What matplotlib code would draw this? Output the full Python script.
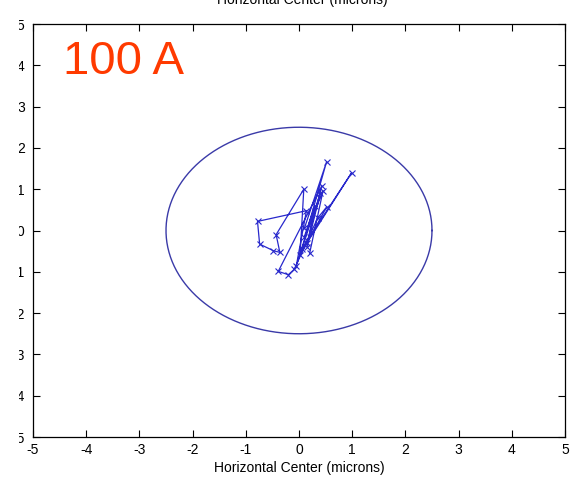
import numpy as np
import matplotlib
matplotlib.use('Agg')
import matplotlib.pyplot as plt
from matplotlib.patches import Rectangle

plt.rcParams['font.family'] = ['Liberation Sans', 'DejaVu Sans']
plt.rcParams['axes.unicode_minus'] = False

# beam centre trace (microns)
trace_x = [0.10, 0.52, 0.05, 0.99, 0.15, 0.43, -0.39, -0.20, -0.09, 0.35,
           0.52, 0.02, 0.09, -0.43, -0.36, -0.48, -0.74, -0.78, 0.14, -0.05,
           0.40, 0.15, 0.30, 0.10, 0.45, 0.20]
trace_y = [0.05, 1.67, -0.45, 1.40, -0.30, 1.08, -0.99, -1.07, -0.94, 0.30,
           0.57, -0.60, 1.00, -0.10, -0.53, -0.49, -0.33, 0.22, 0.48, -0.85,
           0.90, -0.40, 0.60, -0.15, 0.95, -0.55]

# reference circle
radius = 2.5
ticks = [-5, -4, -3, -2, -1, 0, 1, 2, 3, 4, 5]
label_text = 'Horizontal Center (microns)'
current_label = '100 A'

fig = plt.figure(figsize=(5.82, 4.87), dpi=100)
ax = fig.add_axes([33/582, 1 - 437/487, (565 - 33)/582, (437 - 24)/487])

t = np.linspace(0, 2*np.pi, 400)
ax.plot(radius*np.cos(t), radius*np.sin(t), color='#3a3aa8', lw=1.0)
ax.plot(trace_x, trace_y, color='#2828cc', lw=0.9, marker='x', ms=4, mew=0.8)

ax.set_xlim(-5, 5)
ax.set_ylim(-5, 5)
ax.set_xticks(ticks)
ax.set_yticks(ticks)
ax.tick_params(direction='in', length=5, top=True, right=True, labelsize=10)
ax.tick_params(axis='x', pad=4)
ax.tick_params(axis='y', pad=6)
for s in ax.spines.values():
    s.set_linewidth(0.9)
ax.set_xlabel(label_text, fontsize=10, labelpad=3)

# title, partly cut off by the top edge
fig.text(302/582, 1 - 4/487, label_text, ha='center', va='baseline', fontsize=10)

ax.text(63/582, 1 - 74/487, current_label, transform=fig.transFigure,
        color='#ff3a00', fontsize=34, ha='left', va='baseline')

# y tick labels are cut at the left edge
fig.patches.append(Rectangle((0, 0), 19/582, 1, transform=fig.transFigure,
                             facecolor='white', edgecolor='none', zorder=10))

fig.savefig('out.png', dpi=100)
